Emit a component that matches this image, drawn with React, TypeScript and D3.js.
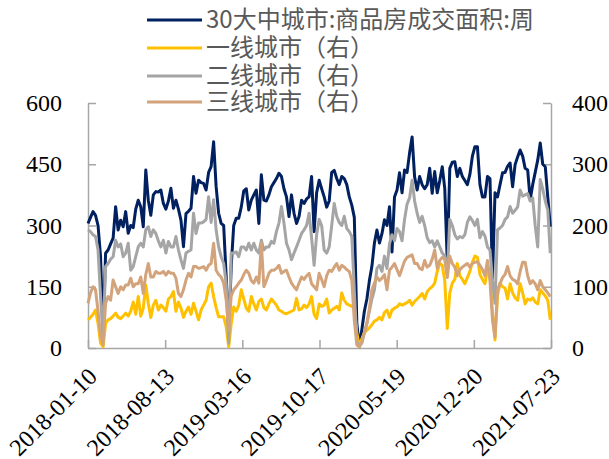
import React, { useEffect, useRef } from "react";
import * as d3 from "d3";

// weekly observations starting 2018-01-10
const startDate = new Date(2018, 0, 10);

// 30大中城市:商品房成交面积:周 (left axis)
const cities30 = [
  305, 320, 334, 325, 300, 224, 35, 232, 240, 255,
  269, 346, 289, 313, 297, 334, 281, 300, 295, 340,
  362, 346, 297, 436, 362, 325, 375, 383, 382, 387,
  354, 340, 360, 391, 342, 362, 340, 313, 248, 329,
  335, 342, 420, 379, 411, 405, 403, 387, 430, 444,
  505, 395, 330, 305, 300, 175, 30, 200, 300, 318,
  318, 345, 385, 390, 338, 362, 375, 387, 305, 424,
  362, 360, 375, 395, 405, 415, 428, 420, 390, 370,
  322, 375, 330, 305, 322, 362, 354, 365, 370, 420,
  285, 380, 411, 390, 370, 345, 360, 430, 435, 415,
  400, 420, 415, 400, 370, 350, 320, 60, 3, 45,
  90, 120, 165, 200, 257, 289, 257, 280, 314, 300,
  346, 235, 370, 387, 429, 380, 436, 430, 478, 517,
  419, 387, 420, 400, 390, 400, 440, 379, 432, 380,
  410, 444, 391, 210, 440, 455, 456, 420, 440, 420,
  410, 400, 425, 470, 493, 493, 400, 370, 370, 420,
  415, 170, 380, 370, 400, 429, 430, 445, 453, 395,
  449, 468, 485, 470, 440, 436, 363, 400, 430, 460,
  502, 450, 444, 370, 297,
];

// 一线城市 (right axis)
const tier1 = [
  46, 50, 55, 62, 40, 8, 2, 40, 46, 48,
  52, 57, 50, 48, 52, 57, 52, 60, 75, 55,
  84, 52, 65, 103, 73, 50, 70, 78, 62, 70,
  66, 60, 80, 84, 92, 60, 75, 65, 50, 60,
  67, 55, 73, 60, 46, 62, 70, 78, 100, 106,
  84, 66, 51, 51, 51, 35, 2, 40, 67, 60,
  70, 95, 80, 65, 60, 84, 72, 62, 76, 80,
  66, 62, 72, 80, 75, 70, 62, 60, 57, 56,
  58, 60, 62, 81, 62, 64, 70, 66, 72, 84,
  55, 48, 72, 68, 70, 80, 57, 62, 65, 68,
  62, 90, 78, 72, 70, 68, 65, 25, 2, 15,
  25, 29, 33, 38, 44, 46, 50, 46, 58, 62,
  50, 62, 65, 67, 72, 70, 72, 74, 78, 70,
  76, 80, 84, 89, 80, 92, 97, 100, 106, 125,
  138, 135, 110, 32, 90, 106, 112, 138, 118, 112,
  105, 115, 125, 140, 150, 148, 120, 112, 105, 130,
  118, 60, 13, 85, 106, 100, 98, 80, 105, 90,
  82, 78, 105, 90, 72, 80, 78, 82, 75, 72,
  95, 90, 85, 78, 46,
];

// 二线城市 (right axis)
const tier2 = [
  193, 190, 185, 182, 160, 84, 18, 133, 138, 145,
  149, 176, 165, 170, 149, 155, 171, 127, 133, 149,
  165, 171, 165, 193, 198, 182, 193, 187, 175, 165,
  176, 155, 174, 165, 165, 182, 160, 144, 130, 155,
  158, 160, 220, 187, 204, 204, 206, 210, 247, 205,
  242, 193, 165, 149, 138, 106, 8, 155, 155, 157,
  149, 165, 165, 160, 171, 160, 171, 160, 155, 176,
  160, 165, 165, 174, 171, 190, 204, 231, 204, 171,
  160, 144, 155, 165, 176, 187, 193, 200, 220, 180,
  135, 185, 210, 200, 160, 155, 165, 200, 236, 215,
  205, 200, 215, 195, 190, 182, 95, 10, 3, 8,
  25, 40, 60, 80, 95, 130, 135, 125, 150, 130,
  170, 185, 175, 195, 190, 175, 210, 235, 245, 274,
  240, 220, 205, 215, 200, 180, 172, 175, 165, 175,
  165, 155, 150, 120, 210, 200, 185, 178, 182, 180,
  185, 205, 214, 208, 200, 210, 180, 190, 183, 165,
  160, 110, 73, 193, 196, 200, 210, 214, 231, 220,
  225, 230, 258, 248, 250, 252, 240, 245, 200, 165,
  275, 260, 240, 225, 155,
];

// 三线城市 (right axis)
const tier3 = [
  73, 90, 100, 95, 60, 20, 5, 73, 84, 78,
  111, 100, 89, 100, 95, 103, 103, 114, 100, 105,
  105, 116, 89, 120, 138, 116, 116, 125, 122, 122,
  125, 119, 125, 122, 122, 114, 89, 84, 95, 111,
  122, 116, 133, 133, 130, 131, 133, 127, 135, 138,
  171, 127, 120, 116, 106, 78, 30, 85, 95, 100,
  106, 111, 120, 127, 122, 110, 106, 116, 106, 171,
  100, 110, 122, 127, 127, 130, 135, 122, 125, 127,
  116, 106, 100, 95, 106, 116, 112, 118, 122, 105,
  100, 95, 122, 112, 100, 118, 127, 125, 132, 138,
  127, 135, 132, 128, 125, 110, 45, 5, 2, 10,
  25, 40, 65, 95, 106, 116, 110, 114, 120, 95,
  127, 132, 138, 128, 118, 130, 142, 148, 150, 152,
  138, 138, 130, 128, 143, 132, 135, 145, 160, 130,
  143, 148, 145, 115, 150, 138, 132, 118, 128, 132,
  135, 138, 132, 138, 140, 141, 135, 128, 118, 143,
  110, 45, 18, 95, 105, 115, 120, 133, 118, 112,
  110, 105, 125, 140, 140, 118, 105, 110, 105, 95,
  110, 100, 95, 90, 84,
];

const leftTicks = [0, 150, 300, 450, 600];
const rightTicks = [0, 100, 200, 300, 400];
const xTickLabels = ["2018-01-10", "2018-08-13", "2019-03-16", "2019-10-17", "2020-05-19", "2020-12-20", "2021-07-23"];

const seriesNames = ["30大中城市:商品房成交面积:周", "一线城市（右）", "二线城市（右）", "三线城市（右）"];
const seriesColors = ["#002060", "#FFC000", "#A5A5A5", "#D3A47C"];

export default function App() {
  const svgRef = useRef<SVGSVGElement>(null);

  useEffect(() => {
    const width = 609;
    const height = 459;
    const svg = d3.select(svgRef.current);
    svg.selectAll("*").remove();
    svg.attr("width", width).attr("height", height);

    const parse = d3.timeParse("%Y-%m-%d");
    const tickDates = xTickLabels.map(s => parse(s) as Date);

    const xScale = d3.scaleTime()
      .domain([tickDates[0], tickDates[tickDates.length - 1]])
      .range([88, 551]);
    const yLeft = d3.scaleLinear().domain([0, 600]).range([348, 103]);
    const yRight = d3.scaleLinear().domain([0, 400]).range([348, 103]);

    const dates = cities30.map((_, i) => d3.timeDay.offset(startDate, i * 7));

    const axisColor = "#A6A6A6";
    const tickFont = "'Liberation Serif', 'Times New Roman', serif";

    const styleAxis = (g) => {
      g.select(".domain").attr("stroke", axisColor).attr("stroke-width", 1.5);
      g.selectAll(".tick line").attr("stroke", axisColor).attr("stroke-width", 1.5);
      g.selectAll("text").attr("fill", "#000").style("font-family", tickFont).style("font-size", "24px");
    };

    svg.append("g")
      .attr("transform", "translate(88,0)")
      .call(d3.axisLeft(yLeft).tickValues(leftTicks).tickSize(-8).tickSizeOuter(0).tickPadding(26))
      .call(styleAxis);

    svg.append("g")
      .attr("transform", "translate(551,0)")
      .call(d3.axisRight(yRight).tickValues(rightTicks).tickSize(-8).tickSizeOuter(0).tickPadding(21))
      .call(styleAxis);

    const xAxisG = svg.append("g")
      .attr("transform", "translate(0,348)")
      .call(d3.axisBottom(xScale).tickValues(tickDates).tickSize(-8).tickSizeOuter(0)
        .tickFormat(d3.timeFormat("%Y-%m-%d")))
      .call(styleAxis);
    xAxisG.selectAll("text")
      .attr("x", 0).attr("y", 0).attr("dy", "0.35em")
      .attr("text-anchor", "end")
      .attr("transform", "translate(4,24) rotate(-45)");

    const seriesData = [
      { values: cities30, y: yLeft },
      { values: tier1, y: yRight },
      { values: tier2, y: yRight },
      { values: tier3, y: yRight },
    ];

    seriesData.forEach((s, k) => {
      const line = d3.line<number>()
        .x((_, i) => xScale(dates[i]))
        .y(d => s.y(d));
      svg.append("path")
        .datum(s.values)
        .attr("d", line)
        .attr("fill", "none")
        .attr("stroke", seriesColors[k])
        .attr("stroke-width", 3)
        .attr("stroke-linejoin", "round");
    });

    // legend
    const legendRows = [20, 48, 76, 102];
    const legend = svg.append("g");
    seriesNames.forEach((name, k) => {
      legend.append("line")
        .attr("x1", 147).attr("x2", 202)
        .attr("y1", legendRows[k]).attr("y2", legendRows[k])
        .attr("stroke", seriesColors[k]).attr("stroke-width", 3);
      legend.append("text")
        .attr("x", 206).attr("y", legendRows[k])
        .attr("dy", "0.35em")
        .attr("fill", "#595959")
        .style("font-family", "'Noto Sans CJK SC', sans-serif")
        .style("font-size", "24px")
        .text(name);
    });
  }, []);

  return (
    <div style={{ position: "absolute", left: 0, top: 0 }}>
      <svg ref={svgRef}></svg>
    </div>
  );
}
